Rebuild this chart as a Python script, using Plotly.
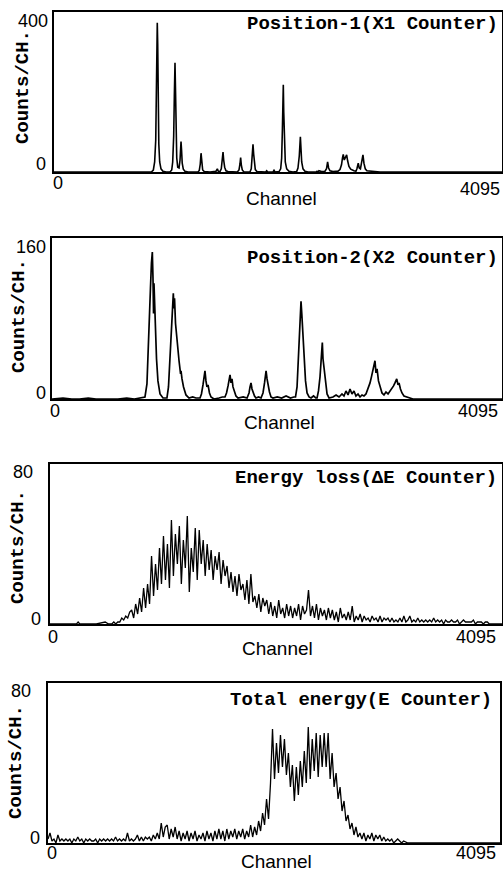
import plotly.graph_objects as go

# ---------------- DATA ----------------
pos1_channels = [0, 890, 908, 920, 930, 935, 941, 944, 948, 952, 958, 966, 978, 996, 1024,
                 1060, 1076, 1085, 1094, 1100, 1106, 1111, 1115, 1122, 1131,
                 1143, 1152, 1156, 1161, 1166, 1172, 1182, 1197, 1225,
                 1316, 1328, 1337, 1344, 1350, 1359, 1374, 1426,
                 1481, 1493, 1502,
                 1517, 1529, 1538, 1545, 1551, 1560, 1572, 1590,
                 1675, 1691, 1700, 1706, 1712, 1721, 1737,
                 1791, 1803, 1813, 1819, 1825, 1831, 1840, 1855,
                 1935, 1944, 1953, 2002, 2011, 2020,
                 2057, 2072, 2081, 2088, 2096, 2100, 2105, 2114, 2127, 2148, 2184,
                 2218, 2230, 2242, 2252, 2258, 2264, 2276, 2294, 2322,
                 2395, 2404, 2413, 2422, 2445,
                 2477, 2491, 2501, 2510, 2523, 2550, 2578,
                 2596, 2614, 2628, 2637, 2644, 2653, 2662, 2675, 2684, 2696, 2712, 2728, 2742, 2760,
                 2769, 2781, 2790, 2801, 2815, 2824, 2833, 2845, 2860, 2888, 2934, 2980, 4095]
pos1_counts = [0, 0, 5, 25, 80, 180, 330, 373, 320, 170, 70, 25, 8, 2, 0,
               0, 5, 25, 90, 190, 273, 200, 100, 35, 12,
               10, 30, 55, 76, 55, 22, 7, 2, 0,
               0, 4, 20, 47, 20, 5, 1, 0,
               2, 8, 2,
               1, 8, 28, 50, 30, 12, 3, 1,
               0, 5, 20, 36, 18, 5, 0,
               0, 8, 35, 69, 45, 20, 6, 1,
               0, 3, 0, 0, 4, 0,
               1, 8, 35, 110, 218, 150, 70, 25, 8, 2, 0,
               1, 10, 40, 88, 55, 25, 8, 2, 0,
               0, 2, 0, 3, 1,
               2, 8, 25, 10, 3, 1, 2,
               2, 6, 18, 35, 44, 30, 34, 43, 28, 14, 7, 4, 3, 2,
               8, 22, 10, 8, 25, 43, 22, 8, 3, 2, 1, 0, 0]

pos2_channels = [0, 100, 180, 250, 330, 400, 600, 680, 750, 820, 846, 864, 882, 896, 905, 913, 919, 924, 928, 937, 951, 964, 983, 1010,
                 1046, 1060, 1074, 1088, 1097, 1104, 1110, 1115, 1124, 1138, 1156, 1170, 1174, 1183, 1197, 1219, 1247,
                 1280, 1310, 1347, 1360, 1374, 1383, 1392, 1401, 1410, 1420, 1433, 1447, 1474,
                 1520, 1550, 1574, 1588, 1602, 1611, 1620, 1629, 1638, 1647, 1661, 1674, 1693,
                 1740, 1775, 1793, 1802, 1811, 1820, 1829, 1843, 1856,
                 1880, 1902, 1920, 1934, 1943, 1948, 1957, 1966, 1979, 1993, 2011,
                 2050, 2090, 2130, 2170, 2200,
                 2216, 2230, 2243, 2252, 2262, 2266, 2273, 2280, 2293, 2307, 2321, 2339, 2357,
                 2380, 2400, 2412, 2425, 2439, 2453, 2460, 2466, 2475, 2489, 2503, 2521,
                 2557, 2585, 2612, 2639, 2657, 2675, 2694, 2712, 2730, 2748, 2766, 2785, 2803, 2821, 2839,
                 2857, 2876, 2894, 2907, 2921, 2930, 2939, 2948, 2958, 2971, 2985, 3003, 3021, 3039, 3058, 3076,
                 3094, 3108, 3121, 3137, 3149, 3158, 3171, 3185, 3203, 3230, 3258, 3285, 4095]
pos2_counts = [0, 1, 0, 0, 1, 0, 0, 1, 0, 1, 2, 15, 60, 110, 135, 146, 120, 85, 115, 75, 40, 18, 5, 1,
               1, 12, 45, 80, 95, 105, 90, 100, 75, 55, 38, 25, 28, 20, 12, 4, 1,
               2, 1, 1, 5, 14, 22, 28, 18, 12, 14, 6, 2, 0,
               1, 2, 2, 6, 13, 18, 24, 16, 20, 12, 7, 3, 1,
               2, 1, 6, 12, 16, 10, 7, 3, 1,
               2, 1, 6, 16, 24, 28, 20, 14, 7, 2, 1,
               2, 1, 3, 1, 2,
               2, 12, 40, 65, 88, 97, 85, 70, 40, 18, 6, 2, 1,
               3, 1, 1, 8, 22, 45, 56, 40, 30, 15, 5, 1,
               2, 4, 2, 5, 3, 8, 4, 10, 5, 8, 3, 5, 2, 4, 3,
               5, 10, 16, 22, 28, 32, 38, 26, 30, 18, 12, 6, 4, 7, 5, 8,
               10, 13, 16, 20, 14, 16, 10, 6, 3, 2, 1, 0, 0]

# Energy loss spectrum: leading sparse points, then bins every 18 channels from 560
eloss_lead_channels = [0, 150, 240, 255, 270, 420, 500, 530, 545]
eloss_lead_counts = [0, 0, 0, 1, 0, 0, 1, 0, 0]
eloss_start, eloss_step = 560, 18
eloss_counts = [0, 1, 0, 1, 1, 3, 2, 4, 3, 6,
                7, 3, 10, 5, 13, 6, 18, 8, 20, 10,
                34, 14, 30, 17, 38, 20, 44, 22, 40, 18,
                52, 24, 45, 30, 49, 20, 42, 28, 54, 16,
                38, 26, 48, 22, 47, 30, 42, 24, 40, 27,
                37, 22, 34, 27, 36, 20, 32, 24, 29, 18,
                26, 16, 24, 14, 25, 17, 20, 12, 22, 10,
                25, 11, 14, 8, 15, 6, 13, 9, 12, 5,
                11, 4, 9, 3, 12, 5, 8, 3, 10, 4,
                9, 3, 8, 4, 10, 2, 9, 5, 7, 17,
                4, 9, 3, 10, 2, 8, 4, 7, 2, 8,
                3, 7, 2, 6, 1, 8, 3, 5, 2, 6,
                2, 9, 1, 4, 2, 5, 1, 4, 2, 3,
                1, 4, 2, 3, 1, 4, 1, 3, 2, 3,
                1, 3, 1, 2, 1, 3, 1, 4, 1, 2,
                4, 1, 2, 1, 3, 1, 2, 1, 2, 1,
                2, 1, 3, 1, 2, 1, 2, 0, 2, 1,
                1, 2, 1, 1, 2, 0, 1, 2, 1, 1,
                1, 1, 2, 0, 1, 1, 1, 0, 1, 1,
                0, 0]
eloss_tail_channels = [4095]
eloss_tail_counts = [0]

# Total energy spectrum: bins every 18 channels from 0
etot_start, etot_step = 0, 18
etot_counts = [2, 5, 1, 2, 0, 4, 1, 2, 1, 2,
               1, 2, 0, 2, 1, 3, 1, 2, 0, 2,
               1, 2, 1, 1, 2, 0, 2, 1, 2, 1,
               2, 1, 2, 1, 3, 1, 2, 1, 2, 1,
               5, 1, 2, 1, 2, 4, 1, 3, 1, 3,
               2, 3, 1, 4, 2, 5, 2, 10, 3, 8,
               9, 2, 7, 3, 8, 2, 6, 1, 5, 2,
               6, 1, 5, 2, 6, 1, 4, 2, 5, 1,
               6, 2, 5, 1, 6, 2, 7, 2, 6, 1,
               7, 2, 6, 3, 7, 2, 6, 3, 7, 2,
               6, 3, 9, 3, 8, 4, 11, 6, 15, 9,
               22, 12, 30, 57, 32, 50, 35, 54, 38, 52,
               34, 45, 28, 39, 21, 38, 24, 41, 28, 46,
               30, 58, 32, 52, 36, 55, 33, 54, 38, 55,
               38, 55, 32, 45, 28, 35, 22, 28, 16, 21,
               11, 14, 7, 10, 4, 8, 3, 5, 2, 5,
               1, 4, 2, 5, 1, 4, 2, 4, 1, 3,
               1, 2, 1, 2, 0, 1, 2, 1, 0, 1]
etot_tail_channels = [3260, 4095]
etot_tail_counts = [0, 0]

titles = ["Position-1(X1 Counter)", "Position-2(X2 Counter)",
          "Energy loss(ΔE Counter)", "Total energy(E Counter)"]
y_max = [400, 160, 80, 80]
x_max = 4095
y_title = "Counts/CH."
x_title = "Channel"

# ---------------- build series ----------------
eloss_channels = eloss_lead_channels + [eloss_start + eloss_step * i for i in range(len(eloss_counts))] + eloss_tail_channels
eloss_all = eloss_lead_counts + eloss_counts + eloss_tail_counts
etot_channels = [etot_start + etot_step * i for i in range(len(etot_counts))] + etot_tail_channels
etot_all = etot_counts + etot_tail_counts

series = [(pos1_channels, pos1_counts, 1.6),
          (pos2_channels, pos2_counts, 1.7),
          (eloss_channels, eloss_all, 1.3),
          (etot_channels, etot_all, 1.3)]

W, H = 503, 873
def px(x): return x / W
def py(y): return 1 - y / H

# panel frames in pixels: left, right, top, bottom
frames = [(54, 502, 12, 172), (52, 502, 238, 399), (50, 502, 464, 624), (48, 500, 683, 843)]

MONO = "Liberation Mono, Courier New, monospace"
SANS = "Liberation Sans, Arial, sans-serif"

fig = go.Figure()
layout = dict(width=W, height=H, margin=dict(l=0, r=0, t=0, b=0),
              paper_bgcolor="white", plot_bgcolor="white", showlegend=False)
annotations = []

for k, ((ch, ct, lw), (l, r, t, b)) in enumerate(zip(series, frames)):
    sfx = "" if k == 0 else str(k + 1)
    fig.add_trace(go.Scatter(x=ch, y=ct, mode="lines", xaxis="x" + sfx, yaxis="y" + sfx,
                             line=dict(color="black", width=lw), hoverinfo="skip"))
    axcommon = dict(showline=True, mirror=True, linecolor="black", linewidth=1.6,
                    showgrid=False, zeroline=False, showticklabels=False, ticks="")
    layout["xaxis" + sfx] = dict(domain=[px(l), px(r)], range=[0, x_max], anchor="y" + sfx, **axcommon)
    layout["yaxis" + sfx] = dict(domain=[py(b), py(t)], range=[0, y_max[k]], anchor="x" + sfx, **axcommon)

# text placements (pixels)
ylab_top = [(50, 21), (48, 247), (35, 472), (33, 691)]
ylab_zero = [(48, 164), (48, 393), (43, 619), (42, 838)]
xlab_zero = [(58, 183), (55, 411), (53, 637), (52, 853)]
xlab_max = [(502, 189), (500, 411), (498, 637), (498, 853)]
xtitle_pos = [(281, 199), (279, 422), (277, 648), (276, 861)]
title_pos = [(500, 24), (500, 258), (499, 478), (494, 700)]
ytitle_pos = [(23, 87), (19, 316), (18, 547), (16, 762)]

def ann(text, x, y, xanchor="center", size=18, family=SANS, angle=0, bold=False):
    annotations.append(dict(text=("<b>%s</b>" % text) if bold else text, x=px(x), y=py(y),
                            xref="paper", yref="paper", xanchor=xanchor, yanchor="middle",
                            showarrow=False, textangle=angle,
                            font=dict(family=family, size=size, color="black")))

for k in range(4):
    ann(str(y_max[k]), *ylab_top[k], xanchor="right")
    ann("0", *ylab_zero[k], xanchor="right")
    ann("0", *xlab_zero[k])
    ann(str(x_max), *xlab_max[k], xanchor="right")
    ann(x_title, *xtitle_pos[k], size=19)
    ann(titles[k], *title_pos[k], xanchor="right", size=19, family=MONO, bold=True)
    ann(y_title, *ytitle_pos[k], size=19, family=MONO, angle=-90, bold=True)

layout["annotations"] = annotations
fig.update_layout(**layout)
fig.write_html("out.html", config={"displayModeBar": False},
               post_script="document.body.style.margin='0';document.body.style.overflow='hidden';")
